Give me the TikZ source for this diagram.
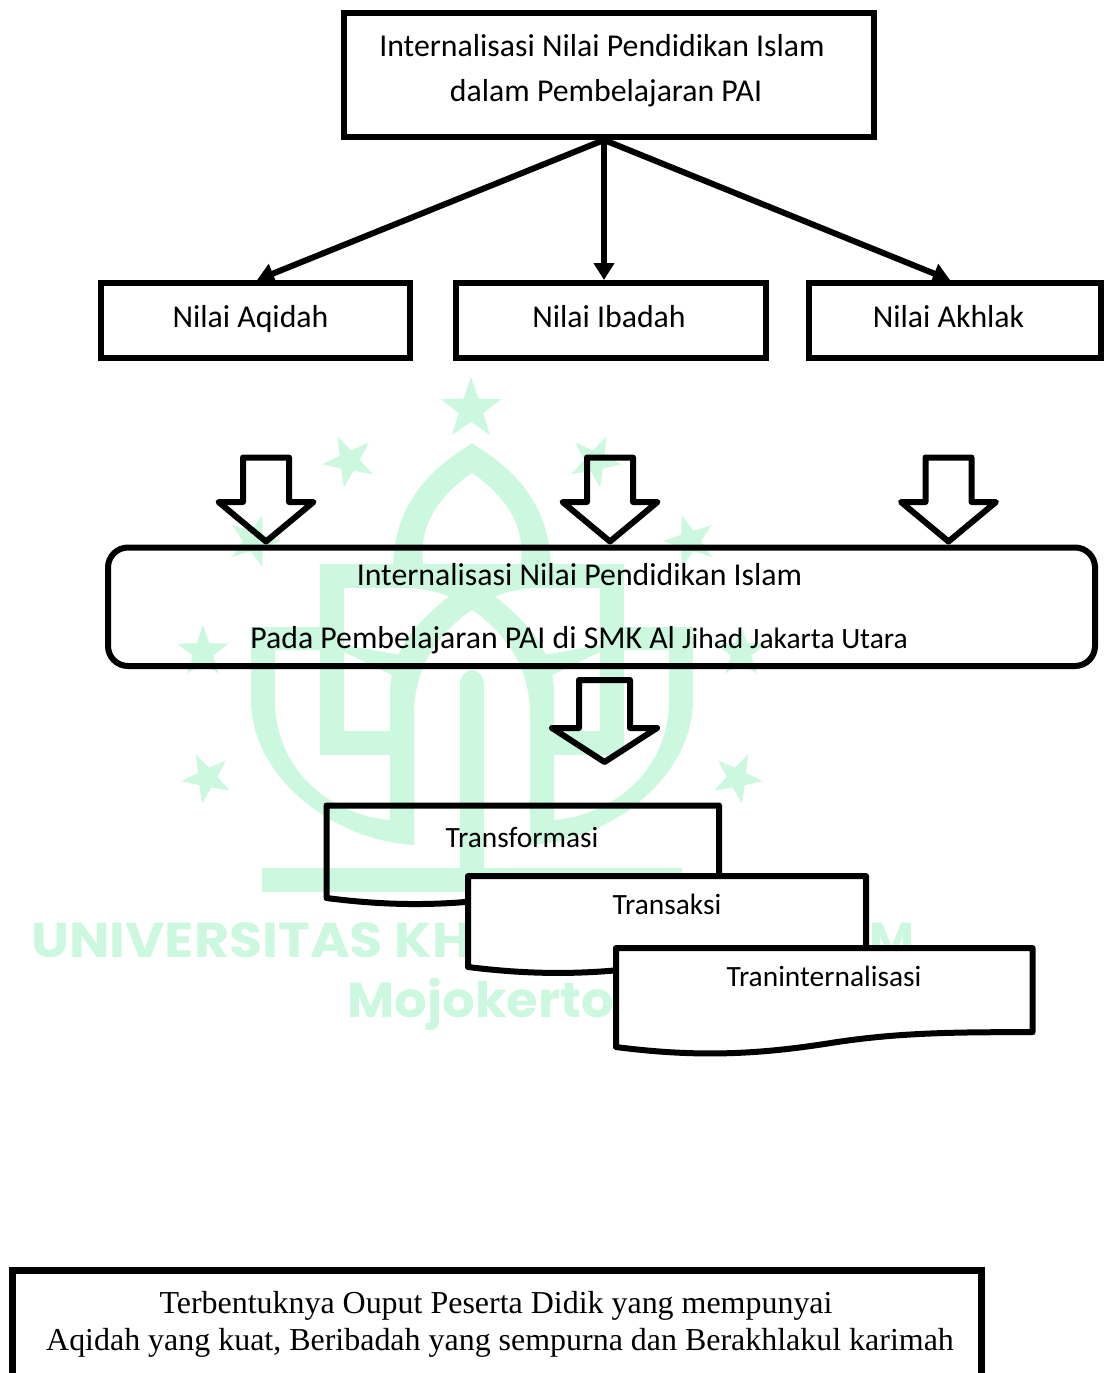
\documentclass[tikz,border=0pt]{standalone}
\usepackage{graphicx}
\usepackage{fontspec}
\setmainfont{Carlito}
\newfontfamily\wmfont{Poppins}
\newfontfamily\serifface{Liberation Serif}
\usetikzlibrary{arrows.meta}
\definecolor{wmgreen}{HTML}{CCF8E0}
\tikzset{
  x=1pt,y=-1pt,
  wm/.style={fill=wmgreen,draw=none},
  wmtext/.style={text=wmgreen,font=\wmfont\bfseries\fontsize{49}{49}\selectfont,anchor=base west,inner sep=0pt},
  valuebox/.style={draw=black,line width=6pt,rectangle,inner sep=0pt},
  lbl/.style={anchor=base,inner sep=0pt,font=\fontsize{31.8}{31.8}\selectfont},
  lblb/.style={anchor=base,inner sep=0pt,font=\fontsize{29.4}{29.4}\selectfont},
  lblser/.style={anchor=base,inner sep=0pt,font=\serifface\fontsize{31.95}{31.95}\selectfont},
  link/.style={draw=black,line width=6pt,-{Triangle[length=17pt,width=20pt]}},
  hollow/.style={draw=black,line width=6pt,line join=round,fill=none},
  docline/.style={draw=black,line width=6pt,line join=round}
}
\newcommand{\wstar}[4]{\fill[wm] plot[samples at={0,...,9},variable=\k]
  ({#1+(#3)*(1-0.6*mod(\k,2))*sin(#4+36*\k)},{#2-(#3)*(1-0.6*mod(\k,2))*cos(#4+36*\k)}) -- cycle;}
\newcommand{\wmhalf}{%
  \fill[wm] (393,570) .. controls (393,505) and (430,468) .. (473,443) -- (473,472)
     .. controls (440,495) and (416,525) .. (424,570) -- cycle;
  \fill[wm] (320,564) rectangle (473,588);
  \fill[wm] (400,587) .. controls (420,588) and (440,592) .. (450,597) -- (473,590) -- (473,587) -- cycle;
  \fill[wm] (320,564) rectangle (344,755);
  \fill[wm] (320,731) rectangle (414,755);
  \fill[wm] (344,645) -- (400,655) -- (394,676) -- (344,652) -- cycle;
  \fill[wm] (390,820) -- (390,690) .. controls (392,640) and (430,610) .. (473,578) -- (473,609)
     .. controls (440,632) and (414,665) .. (414,715) -- (414,845) -- cycle;
  \fill[wm] (251,627) -- (251,700) .. controls (251,775) and (330,840) .. (414,845) -- (414,820) -- (390,820)
     .. controls (330,815) and (275,770) .. (275,700) -- (275,650) -- (320,650) -- (320,627) -- cycle;
  \fill[wm] (460,868) -- (460,685) .. controls (460,676) and (466,670) .. (473,670) -- (473,868) -- cycle;
  \fill[wm] (262,868) rectangle (473,892);
}
\newcommand{\blockarrow}[6]{% cx, top, shoulder, tip, shaft half, wing half
  \draw[hollow] ({#1-#5},#2) -- ({#1+#5},#2) -- ({#1+#5},#3) -- ({#1+#6},#3) -- (#1,#4)
     -- ({#1-#6},#3) -- ({#1-#5},#3) -- cycle;}
\newcommand{\docshape}[5]{% x1,y1,x2,y2(bottom left),fill
  \pgfmathsetmacro{\w}{#3-#1}\pgfmathsetmacro{\h}{#4-#2}
  \draw[docline,fill=#5] (#1,#2) -- (#3,#2) -- (#3,{#4-.15*\h})
    .. controls ({#1+.825*\w},{#4-.15*\h}) and ({#1+.68*\w},{#4-.15*\h}) .. ({#1+.515*\w},{#4-.04*\h})
    .. controls ({#1+.35*\w},{#4+.07*\h}) and ({#1+.2*\w},{#4+.11*\h}) .. (#1,#4) -- cycle;}
\begin{document}
\begin{tikzpicture}
\useasboundingbox (0,0) rectangle (1107,1373);
\clip (0,0) rectangle (1107,1373);
% watermark
\wmhalf
\begin{scope}[shift={(944,0)},xscale=-1]
\wmhalf
\end{scope}
\wstar{471}{409}{32}{0}
\wstar{349}{461}{27}{-25}
\wstar{595}{461}{27}{25}
\wstar{254}{541}{27}{18}
\wstar{690}{541}{27}{-18}
\wstar{203}{652}{27}{0}
\wstar{741}{652}{27}{0}
\wstar{207}{778}{26}{-25}
\wstar{737}{778}{26}{25}
\node[wmtext] (wmuniv) at (31,957) {\scalebox{1.1}[1]{UNIVERSITAS KH}};
\node[wmtext] (wmm) at (869,957) {M};
\node[wmtext] (wmmojo) at (347,1017) {\scalebox{1.05}[1]{Mojokerto}};
% top boxes
\node[valuebox,minimum width=530pt,minimum height=124pt] (top) at (609,75) {};
\node[valuebox,minimum width=309pt,minimum height=75pt] (aqidah) at (255.5,320.5) {};
\node[valuebox,minimum width=310pt,minimum height=75pt] (ibadah) at (611,320.5) {};
\node[valuebox,minimum width=291.5pt,minimum height=75pt] (akhlak) at (954.75,320.5) {};
\node[lbl] (t1a) at (602,56.7) {Internalisasi Nilai Pendidikan Islam};
\node[lbl] (t1b) at (606,101.7) {dalam Pembelajaran PAI};
\node[lbl] (t2) at (250.5,327.7) {Nilai Aqidah};
\node[lbl] (t3) at (609,327.7) {Nilai Ibadah};
\node[lbl] (t4) at (948.5,327.7) {Nilai Akhlak};
\draw[link] ([xshift=-5pt]top.south) -- ([xshift=1.5pt]aqidah.north);
\draw[link] ([xshift=-5pt]top.south) -- ([xshift=-7pt]ibadah.north);
\draw[link] ([xshift=-5pt]top.south) -- ([xshift=-4.75pt]akhlak.north);
% block arrows
\blockarrow{266}{457.5}{502}{541.5}{23}{47.5}
\blockarrow{610}{457.5}{502}{541.5}{23}{47.5}
\blockarrow{948.5}{457.5}{502}{541.5}{23}{47.5}
% rounded box
\node[draw=black,line width=6pt,rounded corners=20pt,rectangle,inner sep=0pt,minimum width=987pt,minimum height=118.5pt] (mid) at (601.5,606.75) {};
\node[lbl] (m1) at (579.5,585.7) {Internalisasi Nilai Pendidikan Islam};
\node[lbl] (m2) at (579,648.5) {Pada Pembelajaran PAI di SMK Al {\fontsize{29.5}{29.5}\selectfont Jihad Jakarta Utara}};
\blockarrow{604.5}{680}{728}{762}{25.5}{52.5}
% stacked documents
\docshape{326.5}{805.5}{719}{898}{none}
\docshape{468}{876}{866}{967}{white}
\docshape{616}{948}{1032.5}{1047}{white}
\node[lblb] (d1) at (522,847.5) {Transformasi};
\node[lblb] (d2) at (667,914.5) {Transaksi};
\node[lblb] (d3) at (824,986.5) {Traninternalisasi};
% bottom box
\node[draw=black,line width=7pt,rectangle,fill=white,inner sep=0pt,minimum width=969.5pt,minimum height=140pt] (out) at (496.75,1340.5) {};
\node[lblser] (o1) at (496,1313) {Terbentuknya Ouput Peserta Didik yang mempunyai};
\node[lblser] (o2) at (500,1350) {Aqidah yang kuat, Beribadah yang sempurna dan Berakhlakul karimah};
\end{tikzpicture}
\end{document}
